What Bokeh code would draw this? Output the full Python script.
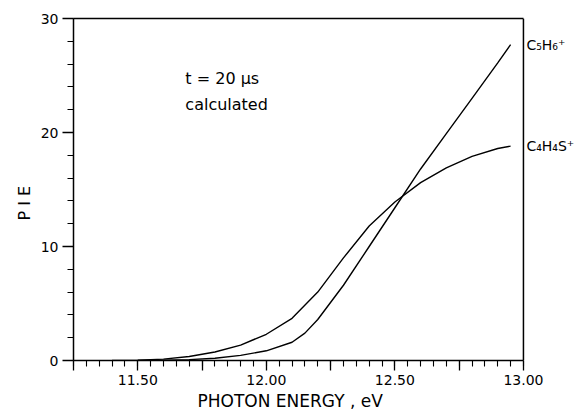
from bokeh.plotting import figure
from bokeh.models import Range1d, FixedTicker, Label, LinearAxis, Span, Title
from bokeh.embed import file_html
from bokeh.resources import INLINE

# --- data ---
energy_c4h4s = [11.40, 11.50, 11.60, 11.70, 11.80, 11.90, 12.00, 12.10, 12.20,
                12.30, 12.40, 12.50, 12.60, 12.70, 12.80, 12.90, 12.95]
pie_c4h4s = [0.0, 0.02, 0.12, 0.35, 0.75, 1.35, 2.3, 3.7, 6.0,
             9.0, 11.8, 13.9, 15.6, 16.9, 17.9, 18.6, 18.8]

energy_c5h6 = [11.50, 11.60, 11.70, 11.80, 11.90, 12.00, 12.10, 12.15, 12.20,
               12.30, 12.40, 12.50, 12.60, 12.70, 12.80, 12.90, 12.95]
pie_c5h6 = [0.0, 0.03, 0.08, 0.2, 0.45, 0.85, 1.6, 2.4, 3.6,
            6.6, 10.0, 13.4, 16.8, 19.9, 23.0, 26.1, 27.7]

x_start, x_end = 11.25, 13.00
y_start, y_end = 0, 30
x_ticks = [11.25, 11.50, 11.75, 12.00, 12.25, 12.50, 12.75, 13.00]
x_tick_labels = ["", "11.50", "", "12.00", "", "12.50", "", "13.00"]
x_minor = [round(11.25 + 0.05 * i, 2) for i in range(36)]
y_ticks = [0, 10, 20, 30]
y_minor = [v for v in range(0, 31, 2)]

x_title = "PHOTON ENERGY , eV"
y_title = "P I E"
label_c5h6 = "C\u2085H\u2086\u207a"
label_c4h4s = "C\u2084H\u2084S\u207a"

FONT = "DejaVu Sans"

# frame extends past 13.00 so that the curve labels are not clipped;
# the visible box is closed at 13.00 by a bounded top axis and a span
p = figure(width=579, height=413,
           x_range=Range1d(x_start, 13.218), y_range=Range1d(y_start, y_end),
           output_backend="svg", toolbar_location=None,
           min_border_left=73, min_border_top=18,
           min_border_right=0, min_border_bottom=53)
p.grid.visible = False
p.outline_line_color = None
p.background_fill_color = "white"
p.border_fill_color = "white"

xa = p.xaxis[0]
xa.bounds = (x_start, x_end)
xa.ticker = FixedTicker(ticks=x_ticks, minor_ticks=x_minor)
xa.major_label_overrides = {t: s for t, s in zip(x_ticks, x_tick_labels)}
xa.major_tick_in = 0
xa.major_tick_out = 10
xa.minor_tick_in = 0
xa.minor_tick_out = 6
xa.major_label_standoff = 4
xa.major_label_text_font = FONT
xa.major_label_text_font_size = "14px"

ya = p.yaxis[0]
ya.ticker = FixedTicker(ticks=y_ticks, minor_ticks=y_minor)
ya.major_tick_in = 0
ya.major_tick_out = 11
ya.minor_tick_in = 0
ya.minor_tick_out = 6
ya.major_label_standoff = 4
ya.major_label_text_font = FONT
ya.major_label_text_font_size = "14px"

top = LinearAxis(bounds=(x_start, x_end), ticker=FixedTicker(ticks=[]),
                 major_tick_out=0, major_tick_in=0, minor_tick_out=0, minor_tick_in=0,
                 major_label_text_font_size="0px", axis_line_width=1.5,
                 axis_line_color="black")
p.add_layout(top, "above")

for ax in (xa, ya):
    ax.axis_line_width = 1.5
    ax.major_tick_line_width = 1.3
    ax.minor_tick_line_width = 1.1
    ax.axis_line_color = "black"
    ax.major_label_text_color = "black"

p.add_layout(Title(text=x_title, align="left", offset=124, standoff=2,
                   text_font=FONT, text_font_size="17px",
                   text_font_style="normal", text_color="black"), "below")
p.add_layout(Title(text=y_title, align="left", offset=140, standoff=8,
                   text_font=FONT, text_font_size="16px",
                   text_font_style="normal", text_color="black"), "left")

p.add_layout(Span(location=x_end, dimension="height", line_color="black", line_width=1.5))

p.line(energy_c4h4s, pie_c4h4s, line_color="black", line_width=1.4)
p.line(energy_c5h6, pie_c5h6, line_color="black", line_width=1.4)

p.add_layout(Label(x=x_end, y=pie_c5h6[-1], text=label_c5h6, x_offset=3,
                   text_align="left", text_baseline="middle",
                   text_font=FONT, text_font_size="14px", text_color="black"))
p.add_layout(Label(x=x_end, y=pie_c4h4s[-1], text=label_c4h4s, x_offset=3,
                   text_align="left", text_baseline="middle",
                   text_font=FONT, text_font_size="14px", text_color="black"))

p.add_layout(Label(x=11.685, y=24.7, text="t = 20 \u03bcs",
                   text_align="left", text_baseline="middle",
                   text_font=FONT, text_font_size="16px", text_color="black"))
p.add_layout(Label(x=11.685, y=22.5, text="calculated",
                   text_align="left", text_baseline="middle",
                   text_font=FONT, text_font_size="16px", text_color="black"))

open("out.html", "w").write(file_html(p, INLINE))
